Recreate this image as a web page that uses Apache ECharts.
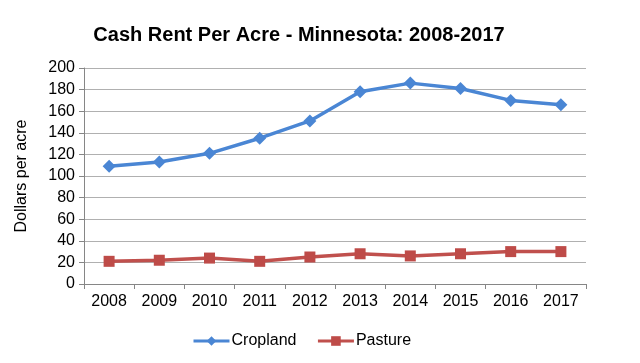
<!DOCTYPE html>
<html><head><meta charset="utf-8">
<script src="https://cdn.jsdelivr.net/npm/echarts@6/dist/echarts.min.js"></script>
<style>html,body{margin:0;padding:0;background:#fff}#c{width:640px;height:363px}</style>
</head><body><div id="c"></div>
<script>
var years = ['2008','2009','2010','2011','2012','2013','2014','2015','2016','2017'];
var cropland = [109,113,121,135,151,178,186,181,170,166];
var pasture = [21,22,24,21,25,28,26,28,30,30];
var chart = echarts.init(document.getElementById('c'));
var F = 'Liberation Sans, Arial, sans-serif';
chart.setOption({
  animation:false,
  title:{text:'Cash Rent Per Acre - Minnesota: 2008-2017',left:294,textAlign:'center',top:20,
    textStyle:{fontFamily:F,fontSize:20,fontWeight:'bold',color:'#000'}},
  grid:{left:84,right:54,top:68,bottom:79},
  legend:{top:333,left:192,padding:0,itemGap:20,itemWidth:36,itemHeight:12,
    lineStyle:{width:3},
    textStyle:{fontFamily:F,fontSize:16,color:'#000',padding:[0,0,0,-3]},
    data:['Cropland','Pasture']},
  xAxis:{type:'category',data:years,boundaryGap:true,
    axisLine:{lineStyle:{color:'#868686'}},
    axisTick:{show:true,length:5,lineStyle:{color:'#868686'}},
    axisLabel:{fontFamily:F,fontSize:16,color:'#000',margin:10}},
  yAxis:{type:'value',min:0,max:200,interval:20,
    name:'Dollars per acre',nameLocation:'middle',nameGap:54,nameRotate:90,
    nameTextStyle:{fontFamily:F,fontSize:16,color:'#000'},
    axisLine:{show:true,lineStyle:{color:'#868686'}},
    axisTick:{show:true,length:5,lineStyle:{color:'#868686'}},
    axisLabel:{fontFamily:F,fontSize:16,color:'#000',margin:9},
    splitLine:{lineStyle:{color:'#b0b0b0'}}},
  series:[
    {name:'Cropland',type:'line',data:cropland,symbol:'diamond',symbolSize:13,
     lineStyle:{color:'#4a86d4',width:3.5},itemStyle:{color:'#4a86d4'}},
    {name:'Pasture',type:'line',data:pasture,symbol:'rect',symbolSize:11,
     lineStyle:{color:'#c0504d',width:3.5},itemStyle:{color:'#be4b48'}}
  ]
});
</script></body></html>
